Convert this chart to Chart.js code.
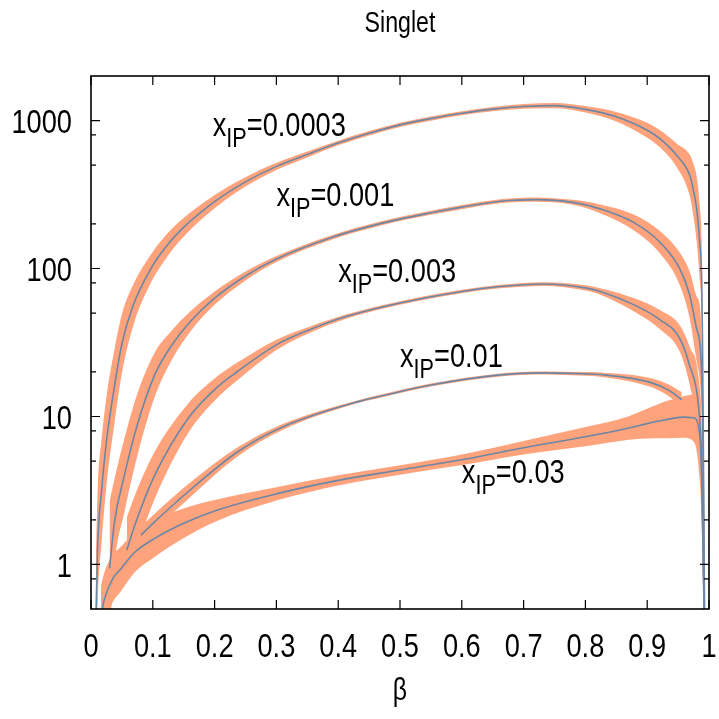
<!DOCTYPE html>
<html lang="en">
<head>
<meta charset="UTF-8">
<title>Singlet</title>
<script src="https://cdn.jsdelivr.net/npm/chart.js"></script>
<style>
  html, body { margin: 0; padding: 0; background: #fff; }
  #grafico { display: block; }
</style>
</head>
<body>
<canvas id="grafico" width="719" height="719"></canvas>
<script>
// x_IP = 0.0003
const betaA = [0.008, 0.011, 0.017, 0.025, 0.038, 0.05, 0.068, 0.097, 0.12, 0.146, 0.2, 0.25, 0.3, 0.35, 0.4, 0.45, 0.5, 0.55, 0.6, 0.65, 0.7, 0.75, 0.8, 0.85, 0.9, 0.921, 0.948, 0.969, 0.975, 0.98, 0.985, 0.988, 0.9895, 0.991, 0.993];
const valA  = [0.45, 1.42, 3.1, 6.8, 16, 31, 56, 100, 138, 183, 283, 385, 490, 590, 705, 820, 935, 1030, 1120, 1195, 1245, 1262, 1190, 1060, 860, 751, 580, 425, 335, 254, 150, 89, 32, 5, 0.3];
const errA  = [0.4, 0.38, 0.35, 0.3, 0.25, 0.2, 0.14, 0.095, 0.08, 0.065, 0.045, 0.032, 0.024, 0.02, 0.016, 0.015, 0.014, 0.014, 0.014, 0.015, 0.016, 0.018, 0.022, 0.032, 0.05, 0.058, 0.08, 0.14, 0.18, 0.22, 0.25, 0.25, 0.25, 0.25, 0.25];

// x_IP = 0.001
const betaB = [0.03, 0.038, 0.054, 0.075, 0.103, 0.13, 0.16, 0.2, 0.25, 0.3, 0.387, 0.468, 0.55, 0.6, 0.662, 0.72, 0.78, 0.824, 0.878, 0.921, 0.953, 0.969, 0.98, 0.985, 0.988, 0.99, 0.993];
const valB  = [0.94, 1.94, 4.0, 8.8, 19.1, 30, 43.5, 63, 89, 116, 161, 201, 238, 260, 285, 292, 280, 253, 205, 150, 99, 65.6, 39, 31.7, 20, 8, 0.3];
const errB  = [0.45, 0.29, 0.25, 0.21, 0.15, 0.1, 0.069, 0.045, 0.03, 0.02, 0.015, 0.014, 0.014, 0.014, 0.014, 0.015, 0.017, 0.03, 0.053, 0.076, 0.11, 0.16, 0.22, 0.25, 0.25, 0.25, 0.25];

// x_IP = 0.003
const betaC = [0.058, 0.071, 0.103, 0.157, 0.2, 0.238, 0.3, 0.35, 0.414, 0.5, 0.6, 0.662, 0.732, 0.8, 0.824, 0.878, 0.921, 0.953, 0.969, 0.983, 0.988, 0.993];
const valC  = [1.25, 1.85, 4.0, 9.7, 15.2, 20.3, 30.5, 38, 47.5, 58.5, 70, 75.5, 78.5, 74, 70, 57, 45, 33.5, 21.8, 11.7, 5, 0.3];
const errC  = [0.22, 0.2, 0.16, 0.1, 0.075, 0.06, 0.035, 0.022, 0.014, 0.012, 0.012, 0.012, 0.013, 0.018, 0.022, 0.045, 0.065, 0.09, 0.13, 0.2, 0.25, 0.25];

// x_IP = 0.01
const betaD = [0.081, 0.103, 0.157, 0.238, 0.31, 0.435, 0.468, 0.55, 0.662, 0.732, 0.8, 0.824, 0.905, 0.935, 0.956];
const valD  = [1.58, 1.94, 3.1, 5.8, 8.5, 12.7, 13.7, 16.3, 19.1, 19.7, 19.4, 19.2, 17, 15, 13];
const errD  = [0.06, 0.055, 0.05, 0.03, 0.02, 0.01, 0.01, 0.01, 0.01, 0.01, 0.012, 0.014, 0.03, 0.04, 0.05];

// x_IP = 0.03
const betaE = [0.016, 0.022, 0.035, 0.049, 0.07, 0.103, 0.15, 0.2, 0.3, 0.4, 0.5, 0.6, 0.7, 0.8, 0.867, 0.9, 0.93, 0.958, 0.975, 0.985, 0.988, 0.99, 0.993];
const valE  = [0.45, 0.59, 0.8, 0.94, 1.2, 1.5, 1.9, 2.3, 3.0, 3.7, 4.35, 5.1, 6.15, 7.3, 8.3, 8.95, 9.5, 9.9, 9.8, 7.5, 4, 1.5, 0.3];
const errE  = [0.2, 0.18, 0.16, 0.15, 0.135, 0.125, 0.1, 0.074, 0.045, 0.034, 0.032, 0.036, 0.045, 0.065, 0.078, 0.1, 0.125, 0.14, 0.16, 0.3, 0.3, 0.3, 0.3];

// curve labels (x_IP value, where the text starts)
const labelText = ['0.0003', '0.001', '0.003', '0.01', '0.03'];
const labelBeta = [0.197, 0.300, 0.400, 0.500, 0.600];
const labelVal  = [790, 264, 80.7, 21.7, 3.55];

// axis ticks
const xTicks = [0, 0.1, 0.2, 0.3, 0.4, 0.5, 0.6, 0.7, 0.8, 0.9, 1];
const xTickLabels = ['0', '0.1', '0.2', '0.3', '0.4', '0.5', '0.6', '0.7', '0.8', '0.9', '1'];
const yTicks = [1, 10, 100, 1000];
const yTickLabels = ['1', '10', '100', '1000'];
const yMinorTicks = [0.8, 2, 5, 8, 20, 50, 80, 200, 500, 800];

const BAND = 'rgb(255,163,125)';
const LINE = '#6c87a5';
const FONT = '"Liberation Sans", Arial, sans-serif';
const SX = 0.8; // the original lettering is condensed

const curves = [
    { beta: betaA, val: valA, err: errA },
    { beta: betaB, val: valB, err: errB },
    { beta: betaC, val: valC, err: errC },
    { beta: betaD, val: valD, err: errD },
    { beta: betaE, val: valE, err: errE }
];

const datasets = [];
curves.forEach(c => {
    datasets.push({
        data: c.beta.map((b, i) => ({ x: b, y: c.val[i] * Math.pow(10, c.err[i]) })),
        borderWidth: 0, borderColor: 'rgba(0,0,0,0)', fill: false, order: 2
    });
    datasets.push({
        data: c.beta.map((b, i) => ({ x: b, y: c.val[i] / Math.pow(10, c.err[i]) })),
        borderWidth: 0, borderColor: 'rgba(0,0,0,0)', backgroundColor: BAND, fill: '-1', order: 2
    });
});
curves.forEach(c => {
    datasets.push({
        data: c.beta.map((b, i) => ({ x: b, y: c.val[i] })),
        borderColor: LINE, borderWidth: 1.6, fill: false, order: 1
    });
});

// condensed text, returns the drawn width
function scritta(ctx, testo, x, y, size, align) {
    ctx.save();
    ctx.font = size + 'px ' + FONT;
    ctx.textAlign = align;
    ctx.textBaseline = 'alphabetic';
    ctx.translate(x, y);
    ctx.scale(SX, 1);
    ctx.fillText(testo, 0, 0);
    const w = ctx.measureText(testo).width * SX;
    ctx.restore();
    return w;
}

// frame, inward ticks and all texts
const cornice = {
    id: 'cornice',
    afterDraw(chart) {
        const { ctx, chartArea: a, scales: { x, y } } = chart;
        ctx.save();
        ctx.strokeStyle = '#000';
        ctx.lineWidth = 1.2;
        ctx.beginPath();
        xTicks.forEach(v => {
            const px = x.getPixelForValue(v);
            ctx.moveTo(px, a.bottom); ctx.lineTo(px, a.bottom - 9);
            ctx.moveTo(px, a.top); ctx.lineTo(px, a.top + 9);
        });
        yTicks.forEach(v => {
            const py = y.getPixelForValue(v);
            ctx.moveTo(a.left, py); ctx.lineTo(a.left + 9, py);
            ctx.moveTo(a.right, py); ctx.lineTo(a.right - 9, py);
        });
        yMinorTicks.forEach(v => {
            const py = y.getPixelForValue(v);
            ctx.moveTo(a.left, py); ctx.lineTo(a.left + 5, py);
            ctx.moveTo(a.right, py); ctx.lineTo(a.right - 5, py);
        });
        ctx.stroke();
        ctx.lineWidth = 1.6;
        ctx.strokeRect(a.left, a.top, a.right - a.left, a.bottom - a.top);
        ctx.restore();

        ctx.fillStyle = '#000';
        yTicks.forEach((v, i) => scritta(ctx, yTickLabels[i], a.left - 19, y.getPixelForValue(v) + 12.5, 34, 'right'));
        xTicks.forEach((v, i) => scritta(ctx, xTickLabels[i], x.getPixelForValue(v), a.bottom + 48, 34, 'center'));
        scritta(ctx, 'β', (a.left + a.right) / 2, 700, 31, 'center');
        scritta(ctx, 'Singlet', (a.left + a.right) / 2, 32, 29, 'center');

        labelText.forEach((t, i) => {
            let px = x.getPixelForValue(labelBeta[i]);
            const py = y.getPixelForValue(labelVal[i]);
            px += scritta(ctx, 'x', px, py, 34, 'left');
            px += scritta(ctx, 'IP', px, py + 11, 27, 'left');
            scritta(ctx, '=' + t, px, py, 34, 'left');
        });
    }
};

const grafico = new Chart(document.getElementById('grafico').getContext('2d'), {
    type: 'line',
    data: { datasets },
    options: {
        responsive: false,
        animation: false,
        layout: { padding: { top: 76, right: 10, left: 0, bottom: 0 } },
        plugins: { legend: { display: false }, tooltip: { enabled: false }, title: { display: false } },
        elements: { point: { radius: 0 }, line: { cubicInterpolationMode: 'monotone' } },
        scales: {
            x: {
                type: 'linear', min: 0, max: 1,
                grid: { display: false }, border: { display: false }, ticks: { display: false },
                afterFit: s => { s.height = 110; }
            },
            y: {
                type: 'logarithmic', min: 0.5, max: 2000,
                grid: { display: false }, border: { display: false }, ticks: { display: false },
                afterFit: s => { s.width = 91; }
            }
        }
    },
    plugins: [cornice]
});
</script>
</body>
</html>
